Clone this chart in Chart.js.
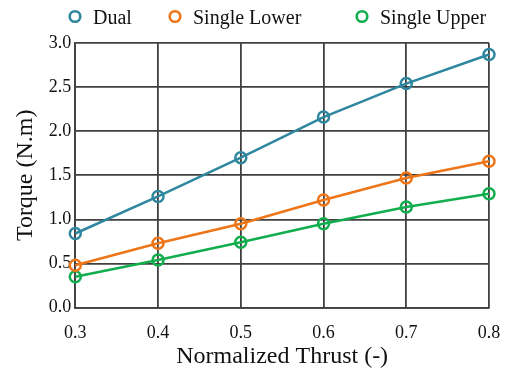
<!DOCTYPE html>
<html>
<head>
<meta charset="utf-8">
<script src="https://cdn.jsdelivr.net/npm/chart.js@4/dist/chart.umd.min.js"></script>
<style>
html,body{margin:0;padding:0;background:#fff;}
#wrap{width:521px;height:372px;}
</style>
</head>
<body>
<div id="wrap"><canvas id="c" width="521" height="372"></canvas></div>
<script>
const thrust = [0.3, 0.4, 0.5, 0.6, 0.7, 0.8];
const dual = [0.84, 1.26, 1.70, 2.16, 2.54, 2.87];
const singleLower = [0.48, 0.73, 0.95, 1.22, 1.47, 1.66];
const singleUpper = [0.35, 0.54, 0.74, 0.95, 1.14, 1.29];
const seriesNames = ['Dual', 'Single Lower', 'Single Upper'];
const colors = ['#2E879F', '#EE7518', '#12AE4E'];

function pts(ys){ return thrust.map((x,i)=>({x:x, y:ys[i]})); }
const FONT = '"Liberation Serif", "Times New Roman", serif';
Chart.defaults.font.family = FONT;
Chart.defaults.color = '#111';

const ds = [dual, singleLower, singleUpper].map((d,i)=>({
  label: seriesNames[i],
  data: pts(d),
  borderColor: colors[i],
  backgroundColor: 'rgba(255,255,255,0)',
  borderWidth: 2.5,
  pointStyle: 'circle',
  pointRadius: 5.5,
  pointBorderWidth: 2.5,
  pointBackgroundColor: 'rgba(255,255,255,0)',
  pointBorderColor: colors[i],
  tension: 0,
  clip: 10
}));

// legend drawn at the top (matching the original's column placement)
const legendX = [75, 175, 362];
const legendPlugin = {
  id: 'topLegend',
  afterDraw(chart){
    const ctx = chart.ctx;
    ctx.save();
    chart.data.datasets.forEach((d,i)=>{
      const cx = legendX[i], cy = 16.5;
      ctx.beginPath();
      ctx.arc(cx, cy, 5.3, 0, Math.PI*2);
      ctx.lineWidth = 2.6;
      ctx.strokeStyle = colors[i];
      ctx.stroke();
      ctx.fillStyle = '#111';
      ctx.font = '20px ' + FONT;
      ctx.textBaseline = 'alphabetic';
      ctx.textAlign = 'left';
      ctx.fillText(d.label, cx + 18, 23.5);
    });
    ctx.restore();
  }
};

new Chart(document.getElementById('c'), {
  type: 'line',
  data: { datasets: ds },
  plugins: [legendPlugin],
  options: {
    responsive: false,
    animation: false,
    layout: { padding: { left: 2, right: 32, top: 43, bottom: 0 } },
    plugins: {
      legend: { display: false },
      tooltip: { enabled: false }
    },
    scales: {
      x: {
        type: 'linear',
        min: 0.3, max: 0.8,
        ticks: { stepSize: 0.1, font: { size: 18 }, color: '#111', padding: 15,
          callback: v => v.toFixed(1) },
        grid: { color: '#404040', lineWidth: 1.8, drawTicks: false },
        border: { color: '#404040', width: 1.8 },
        title: { display: true, text: 'Normalized Thrust (-)', font: { size: 24 }, color: '#111', padding: { top: -17, bottom: 1 } }
      },
      y: {
        min: 0, max: 3,
        ticks: { stepSize: 0.5, font: { size: 18 }, color: '#111', padding: 4,
          callback: v => v.toFixed(1) },
        grid: { color: '#404040', lineWidth: 1.8, drawTicks: false },
        border: { color: '#404040', width: 1.8 },
        title: { display: true, text: 'Torque (N.m)', font: { size: 24 }, color: '#111', padding: { top: 9, bottom: 5 } }
      }
    }
  }
});
</script>
</body>
</html>
